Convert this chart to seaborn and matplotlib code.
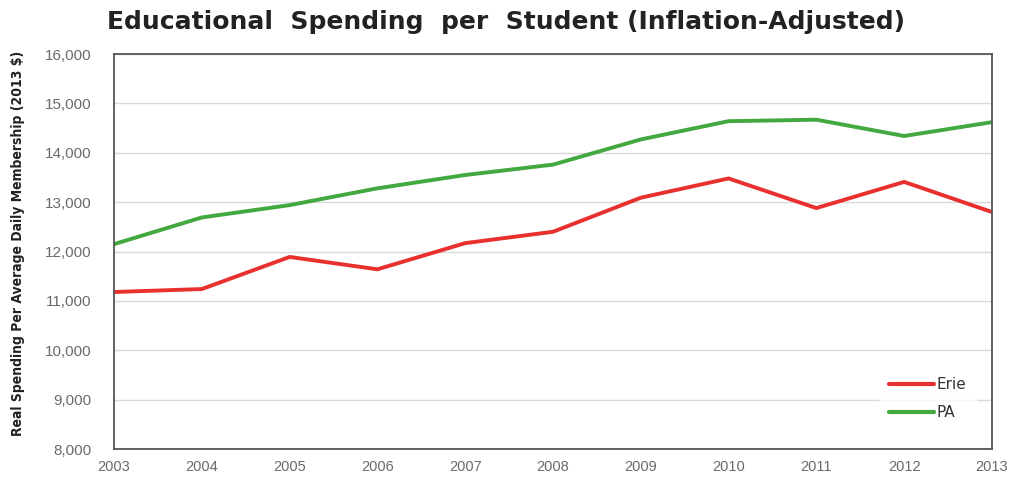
import matplotlib
matplotlib.use("Agg")
import matplotlib.pyplot as plt
import seaborn as sns
import pandas as pd
from matplotlib.ticker import FuncFormatter

# Real spending per average daily membership, 2013 dollars
years = [2003, 2004, 2005, 2006, 2007, 2008, 2009, 2010, 2011, 2012, 2013]
erie = [11180, 11240, 11890, 11640, 12170, 12400, 13090, 13480, 12880, 13410, 12800]
pa = [12150, 12690, 12940, 13280, 13550, 13760, 14270, 14640, 14670, 14340, 14620]

series_names = ["Erie", "PA"]
series_colors = {"Erie": "#e8312f", "PA": "#43a83f"}

df = pd.DataFrame({
    "Year": years * 2,
    "Spending": erie + pa,
    "Region": ["Erie"] * len(years) + ["PA"] * len(years),
})

sns.set_theme(style="white")
plt.rcParams["font.family"] = ["Liberation Sans", "DejaVu Sans"]

fig = plt.figure(figsize=(10.12, 4.79), dpi=100)
ax = fig.add_axes([0.1127, 0.0626, 0.8675, 0.8246])

sns.lineplot(data=df, x="Year", y="Spending", hue="Region",
             hue_order=series_names, palette=series_colors,
             linewidth=2.8, ax=ax, legend=False)

ax.set_xlim(2003, 2013)
ax.set_ylim(8000, 16000)
ax.set_xticks(years)
ax.set_yticks(range(8000, 16001, 1000))
ax.yaxis.set_major_formatter(FuncFormatter(lambda v, p: f"{int(v):,}"))

ax.grid(axis="y", color="#d9d9d9", linewidth=1.0)
ax.set_axisbelow(True)
for side in ["left", "bottom", "right", "top"]:
    ax.spines[side].set_visible(True)
    ax.spines[side].set_color("#555555")
    ax.spines[side].set_linewidth(1.3)

ax.tick_params(axis="x", direction="inout", length=6, width=1.0,
               color="#555555", labelsize=10.5, labelcolor="#6a6a6a", pad=5)
ax.tick_params(axis="y", length=0, labelsize=11, labelcolor="#6a6a6a", pad=16)

ax.set_xlabel("")
ax.set_ylabel("Real Spending Per Average Daily Membership (2013 $)",
              fontsize=10, fontweight="bold", color="#222222",
              family=["DejaVu Sans"], fontstretch="condensed")
ax.yaxis.set_label_coords(-0.101, 0.52)

fig.text(0.5, 0.94, "Educational  Spending  per  Student (Inflation-Adjusted)",
         ha="center", va="baseline", fontsize=18, fontweight="bold",
         color="#222222", family=["DejaVu Sans"])

handles = [plt.Line2D([0], [0], color=series_colors[n], linewidth=3.0)
           for n in series_names]
leg = ax.legend(handles, series_names, loc="lower right",
                bbox_to_anchor=(0.99, 0.03), frameon=True,
                prop={"family": "DejaVu Sans", "size": 11},
                handlelength=2.9, handletextpad=0.2, labelspacing=0.85,
                borderpad=0.6)
leg.get_frame().set_facecolor("white")
leg.get_frame().set_edgecolor("white")
for t in leg.get_texts():
    t.set_color("#333333")

fig.savefig("out.png", dpi=100)
